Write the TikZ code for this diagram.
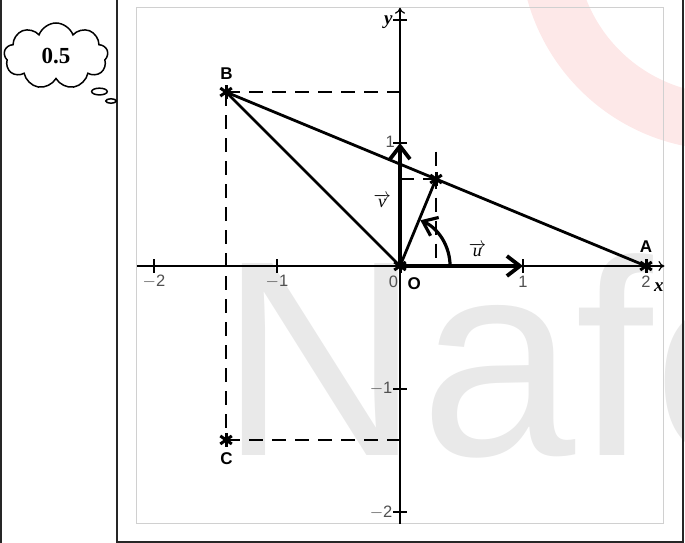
\documentclass[tikz,border=0pt]{standalone}
\usepackage{fontspec}
\setmainfont{Liberation Serif}
\newfontfamily\sansf{Liberation Sans}
\usetikzlibrary{arrows.meta,shapes.geometric,shapes.callouts}
\definecolor{wmgray}{RGB}{233,233,233}
\definecolor{wmpink}{RGB}{253,232,232}
\definecolor{framegray}{RGB}{208,208,208}
\definecolor{ticklab}{RGB}{80,80,80}
\begin{document}
\begin{tikzpicture}[x=1pt,y=-1pt,
  mk/.style={minimum size=16pt,inner sep=0pt,draw=none,
    path picture={
      \draw[line width=3pt] (path picture bounding box.center) ++(90:7pt) -- ++(270:14pt);
      \draw[line width=3pt] (path picture bounding box.center) ++(35:7pt) -- ++(215:14pt);
      \draw[line width=3pt] (path picture bounding box.center) ++(145:7pt) -- ++(325:14pt);
    }},
  ptlab/.style={font=\sansf\bfseries\fontsize{17}{17}\selectfont,inner sep=0pt},
  ticklabel/.style={font=\sansf\fontsize{16.5}{16.5}\selectfont,text=ticklab,inner sep=0pt},
  axislab/.style={font=\bfseries\itshape\fontsize{19}{19}\selectfont,inner sep=0pt},
  veclab/.style={font=\itshape\fontsize{18}{18}\selectfont,inner sep=0pt},
  axisline/.style={line width=1.2pt,-{To[length=6pt,width=10pt]}},
  seg/.style={line width=2.8pt},
  dsh/.style={line width=2.8pt,dash pattern=on 14pt off 9pt},
  vec/.style={line width=3.8pt,-{Straight Barb[length=13pt,width=20pt]}},
  tk/.style={line width=1.1pt},
  cellline/.style={line width=1.5pt,black!85}]
\useasboundingbox (0,0) rectangle (685,543);
% watermarks
\begin{scope}
\clip (0,0) rectangle (685,543);
\fill[wmpink,even odd rule] (725,-55) circle[radius=205pt] (725,-55) circle[radius=149pt];
\node[anchor=base west,inner sep=0pt,text=wmgray,font=\sansf\fontsize{279}{279}\selectfont] (wm) at (219,455) {Nafo};
\end{scope}
% table cell lines
\draw[cellline] (1,0) -- (1,543);
\draw[cellline] (117,0) -- (117,543);
\draw[cellline] (683,0) -- (683,543);
\draw[cellline] (117,542) -- (683,542);
% grey frame
\draw[framegray,line width=1pt] (136,8) rectangle (663,523);
% cloud
\node[cloud callout,draw,line width=1.5pt,cloud puffs=9,cloud puff arc=140,aspect=1.55,
      minimum width=104pt,minimum height=66pt,inner sep=0pt,
      callout absolute pointer={(111,101)},
      font=\bfseries\fontsize{23}{23}\selectfont] (cloud) at (56,56) {0.5};
% plot
\begin{scope}[shift={(400pt,-266pt)},x=123pt,y=123pt]
\coordinate (O) at (0,0);
\coordinate (Xs) at (-2.14,0);
\coordinate (Xe) at (2.15,0);
\coordinate (Ys) at (0,-2.095);
\coordinate (Ye) at (0,2.1);
\coordinate (A) at (2,0);
\coordinate (B) at (-1.4142,1.4142);
\coordinate (C) at (-1.4142,-1.4142);
\coordinate (P) at (0.2929,0.7071);
\coordinate (Bp) at (0,1.4142);
\coordinate (Cp) at (0,-1.4142);
\coordinate (Pt) at (0.2929,0.93);
\coordinate (Pb) at (0.2929,0);
\coordinate (Ph) at (0,0.7071);
\coordinate (U) at (1,0);
\coordinate (V) at (0,1);
\coordinate (R0) at (0.407,0);
% axes
\draw[axisline] (Xs) -- (Xe);
\draw[axisline] (Ys) -- (Ye);
\foreach \t in {-2,-1,1,2}{
  \draw[tk] (\t,0) ++(0,-0.055) -- ++(0,0.11);
  \draw[tk] (0,\t) ++(-0.055,0) -- ++(0.11,0);
}
\node[ticklabel,anchor=north] (xl-2) at (-2,-0.075) {$-$2};
\node[ticklabel,anchor=north] (xl-1) at (-1,-0.075) {$-$1};
\node[ticklabel,anchor=north east] (xl0) at (-0.015,-0.08) {0};
\node[ticklabel,anchor=north] (xl1) at (1,-0.08) {1};
\node[ticklabel,anchor=north] (xl2) at (2,-0.08) {2};
\node[ticklabel,anchor=east] (yl1) at (-0.04,1.01) {1};
\node[ticklabel,anchor=east] (yl-1) at (-0.06,-1) {$-$1};
\node[ticklabel,anchor=east] (yl-2) at (-0.06,-2) {$-$2};
\node[axislab] (xlab) at (2.105,-0.17) {x};
\node[axislab] (ylab) at (-0.095,1.98) {y};
% dashed lines
\draw[dsh] (B) -- (Bp);
\draw[dsh] (B) -- (C);
\draw[dsh] (C) -- (Cp);
\draw[dsh] (Pt) -- (Pb);
\draw[dsh] (Ph) -- (P);
% solid lines
\draw[seg] (B) -- (A);
\draw[seg] (B) -- (O);
\draw[seg] (O) -- (P);
% vectors
\draw[vec] (O) -- (U);
\draw[vec] (O) -- (V);
\draw[vec,line width=3.2pt] (R0) arc[start angle=0,end angle=66,radius=0.407];
\node[veclab] (ulab) at (0.63,0.13) {$\overrightarrow{\textit{u}}$};
\node[veclab] (vlab) at (-0.145,0.53) {$\overrightarrow{\textit{v}}$};
% markers
\foreach \p in {A,B,C,O,P}{\node[mk] (m\p) at (\p) {};}
\node[ptlab] (Alab) at (2,0.155) {A};
\node[ptlab] (Blab) at (-1.41,1.56) {B};
\node[ptlab] (Clab) at (-1.41,-1.565) {C};
\node[ptlab] (Olab) at (0.115,-0.14) {O};
\end{scope}
\end{tikzpicture}
\end{document}
